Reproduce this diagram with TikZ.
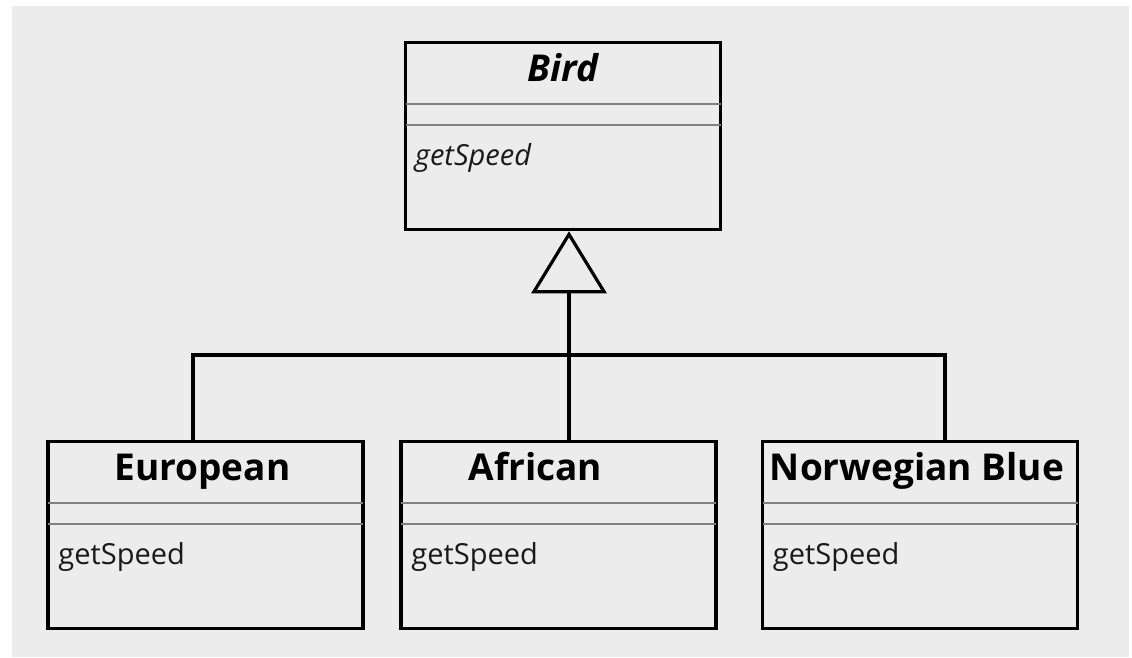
\documentclass[tikz,border=0pt]{standalone}
\usepackage{fontspec}
\setmainfont{Open Sans}
\usetikzlibrary{arrows.meta,positioning}

\definecolor{canvas}{RGB}{235,236,235}
\definecolor{rule}{RGB}{128,128,128}

\tikzset{
  classbox/.style={draw, line width=3.5pt, minimum width=315pt, minimum height=187pt, inner sep=0pt},
  classname/.style={anchor=base, inner sep=0pt, font=\fontsize{37}{40}\selectfont\bfseries},
  method/.style={anchor=base west, inner sep=0pt, text=black!90, font=\fontsize{29}{32}\selectfont},
  divider/.style={draw=rule, line width=2.5pt},
  link/.style={line width=3.2pt},
}

\begin{document}
\begin{tikzpicture}[x=1pt,y=-1pt]
  \fill[canvas] (12,6) rectangle (1129,657);
  \useasboundingbox (0,0) rectangle (1132,657);

  % classes
  \node[classbox] (bird) at (563,136) {};
  \node[classbox] (european) at (205.5,535) {};
  \node[classbox] (african) at (558.5,535) {};
  \node[classbox] (norwegian) at (920,535) {};

  \node[classname, font=\fontsize{37}{40}\selectfont\bfseries\itshape] (birdname)
    at ([yshift=-41pt]bird.north) {Bird};
  \node[classname] (europeanname) at ([xshift=-3pt,yshift=-41pt]european.north) {European};
  \node[classname] (africanname) at ([xshift=-23pt,yshift=-41pt]african.north) {African};
  \node[classname] (norwegianname) at ([xshift=-3pt,yshift=-41pt]norwegian.north) {Norwegian Blue};

  \node[method, font=\fontsize{29}{32}\selectfont\itshape] (birdop)
    at ([xshift=11pt,yshift=-125pt]bird.north west) {getSpeed};
  \foreach \c in {european,african,norwegian}
    \node[method] (\c op) at ([xshift=12pt,yshift=-125pt]\c.north west) {getSpeed};

  % compartments
  \foreach \c in {bird,european,african,norwegian}{
    \draw[divider] ([xshift=1.75pt,yshift=-63pt]\c.north west) -- ([xshift=-1.75pt,yshift=-63pt]\c.north east);
    \draw[divider] ([xshift=1.75pt,yshift=-84pt]\c.north west) -- ([xshift=-1.75pt,yshift=-84pt]\c.north east);
  }

  % generalization
  \coordinate (joint) at (569,355);
  \coordinate (west end) at (193,355);
  \coordinate (east end) at (945,355);
  \draw[link] (european.north -| west end) -- (west end) -- (east end) -- (norwegian.north -| east end);
  \draw[link] (african.north -| joint) -- (joint);
  \draw[link, -{Triangle[open, length=62pt, width=75pt]}] (joint) -- (bird.south -| joint);
\end{tikzpicture}
\end{document}
